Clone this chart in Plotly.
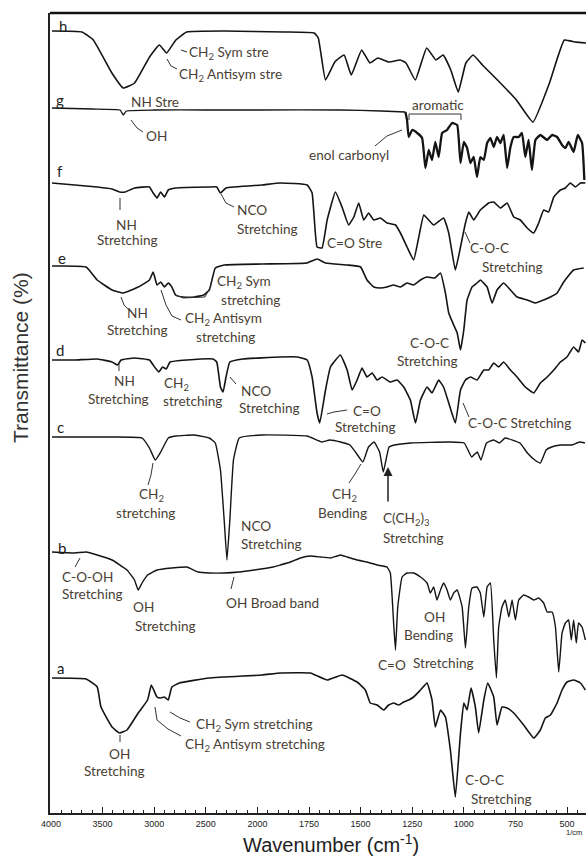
import numpy as np
import plotly.graph_objects as go

# ---------------- data (wavenumber cm-1, stacked transmittance a.u.) ----------------
tick_wn = [4000, 3500, 3000, 2500, 2000, 1750, 1500, 1250, 1000, 750, 500]

wn_h = [3990, 3700, 3590, 3410, 3300, 3190, 3045, 2950, 2880, 2790, 2685, 2320, 1870, 1725, 1705,
        1670, 1625, 1580, 1545, 1495, 1455, 1417, 1362, 1308, 1280, 1235, 1180, 1135, 1100, 1063,
        1027, 990, 955, 910, 837, 745, 665, 585, 513, 460, 408]
t_h = [782, 781, 773, 740, 725, 730, 756, 768, 760, 773, 781, 782, 781, 780, 775,
       733, 751, 758, 738, 763, 750, 755, 751, 753, 750, 733, 765, 753, 758, 743,
       721, 750, 758, 748, 733, 713, 691, 730, 773, 771, 770]

wn_g1 = [3990, 3600, 3330, 3300, 3270, 3000, 2500, 2000, 1600, 1400, 1283]
t_g1 = [705, 704, 703, 698, 702, 703, 703, 703, 703, 702, 701]
wn_g2 = [1283, 1275, 1267, 1250, 1226, 1202, 1186, 1170, 1154, 1138, 1122, 1105, 1081, 1057, 1032,
         1016, 1000, 984, 968, 952, 936, 920, 903, 887, 871, 855, 839, 823, 807, 790, 774, 758,
         734, 718, 702, 686, 670, 653, 629, 596, 572, 548, 524, 508, 492, 468, 448, 427, 416]
t_g2 = [701, 693, 676, 683, 680, 675, 645, 663, 653, 671, 656, 680, 683, 690, 688,
        650, 671, 665, 650, 656, 636, 656, 653, 670, 675, 666, 676, 670, 678, 645, 666, 676,
        676, 680, 656, 673, 643, 673, 678, 673, 678, 676, 668, 665, 671, 661, 678, 670, 633]

wn_f = [3990, 3770, 3552, 3408, 3336, 3282, 3191, 3046, 3010, 2973, 2937, 2901, 2864, 2793, 2466,
        2394, 2358, 2304, 1978, 1889, 1759, 1735, 1711, 1687, 1662, 1622, 1590, 1558, 1533, 1509,
        1485, 1461, 1436, 1404, 1372, 1331, 1307, 1275, 1243, 1218, 1194, 1170, 1146, 1098, 1073,
        1041, 1016, 992, 976, 952, 920, 879, 855, 823, 790, 758, 726, 693, 661, 637, 613, 589,
        564, 532, 508, 484, 459, 435, 411]
t_f = [630, 628, 626, 624, 621, 621, 625, 626, 620, 615, 621, 616, 623, 625, 626,
       626, 620, 625, 628, 630, 628, 620, 566, 565, 593, 621, 606, 588, 596, 610,
       593, 600, 593, 595, 590, 588, 580, 566, 553, 576, 598, 593, 588, 595, 580,
       543, 566, 590, 601, 593, 603, 610, 611, 605, 610, 596, 593, 585, 580, 590, 603, 601,
       616, 623, 625, 630, 626, 630, 630]

wn_e = [3990, 3660, 3552, 3408, 3300, 3155, 3046, 3010, 2973, 2937, 2901, 2864, 2829, 2793, 2720,
        2611, 2520, 2466, 2408, 2322, 1978, 1760, 1711, 1670, 1565, 1500, 1469, 1436, 1404, 1372,
        1340, 1307, 1275, 1243, 1210, 1178, 1140, 1113, 1089, 1073, 1049, 1032, 1016, 1000, 984,
        960, 936, 920, 887, 863, 839, 807, 774, 742, 693, 653, 613, 580, 548, 516, 468, 419]
t_e = [547, 546, 533, 523, 520, 526, 533, 541, 528, 531, 526, 530, 526, 518, 516,
       516, 518, 523, 545, 548, 549, 550, 554, 550, 548, 546, 533, 526, 525, 526,
       528, 526, 530, 528, 533, 536, 535, 540, 520, 500, 488, 480, 463, 483, 513,
       526, 530, 533, 526, 510, 523, 530, 523, 516, 513, 510, 513, 516, 520, 531, 543, 545]

wn_d = [3990, 3770, 3552, 3408, 3355, 3320, 3191, 3046, 2990, 2955, 2919, 2883, 2846, 2684, 2430,
        2394, 2358, 2333, 2304, 2267, 2140, 1889, 1806, 1759, 1735, 1711, 1698, 1670, 1646, 1598,
        1565, 1541, 1517, 1493, 1469, 1444, 1420, 1396, 1356, 1323, 1291, 1259, 1234, 1210, 1178,
        1154, 1122, 1098, 1073, 1041, 1016, 992, 968, 936, 903, 879, 855, 831, 807, 774, 742,
        702, 661, 629, 596, 564, 532, 500, 468, 444, 427, 411]
t_d = [453, 453, 454, 451, 448, 453, 455, 453, 445, 441, 446, 444, 451, 453, 454,
       451, 426, 421, 436, 451, 454, 456, 456, 453, 436, 400, 390, 423, 446, 458,
       443, 423, 433, 445, 436, 440, 433, 436, 431, 433, 426, 413, 390, 413, 426,
       420, 433, 426, 410, 390, 423, 433, 436, 433, 443, 443, 450, 446, 451, 443, 436,
       426, 420, 430, 436, 443, 451, 456, 466, 461, 473, 470]

wn_c = [3990, 3408, 3118, 3046, 2990, 2937, 2864, 2793, 2611, 2466, 2408, 2358, 2322, 2295, 2267,
        2232, 2176, 1978, 1760, 1687, 1650, 1597, 1552, 1525, 1489, 1462, 1435, 1408, 1390, 1362,
        1335, 1256, 1072, 998, 962, 935, 917, 890, 855, 828, 800, 728, 692, 656, 629, 601,
        575, 530, 476, 440, 413]
t_c = [376, 376, 375, 365, 353, 361, 375, 377, 378, 375, 370, 343, 293, 253, 293,
       353, 375, 378, 377, 371, 373, 371, 368, 361, 351, 366, 371, 361, 341, 366,
       368, 370, 371, 370, 356, 361, 353, 370, 373, 370, 375, 370, 360, 353, 350, 363,
       366, 368, 368, 371, 370]

wn_b = [3990, 3770, 3660, 3552, 3408, 3264, 3191, 3155, 3118, 3064, 2973, 2829, 2684, 2575, 2466,
        2322, 2178, 2032, 1924, 1889, 1840, 1792, 1743, 1695, 1646, 1598, 1565, 1517, 1469, 1420,
        1372, 1356, 1340, 1331, 1320, 1299, 1275, 1243, 1210, 1178, 1162, 1146, 1130, 1113, 1098,
        1081, 1065, 1049, 1032, 1008, 992, 976, 960, 936, 920, 903, 887, 871, 855, 842, 831,
        815, 799, 782, 766, 750, 734, 710, 686, 661, 637, 613, 596, 572, 556, 540, 524, 508,
        492, 479, 468, 455, 444, 427, 411]
t_b = [261, 260, 261, 258, 253, 243, 233, 223, 230, 238, 243, 245, 246, 241, 240,
       240, 241, 243, 246, 248, 251, 255, 257, 256, 255, 258, 256, 253, 251, 248,
       246, 240, 190, 163, 206, 236, 240, 240, 236, 230, 220, 226, 213, 223, 230,
       223, 213, 220, 223, 206, 165, 206, 225, 226, 220, 196, 226, 230, 173, 135, 186,
       206, 213, 196, 213, 193, 213, 218, 216, 213, 215, 210, 201, 201, 186, 141, 180, 190,
       193, 173, 193, 170, 190, 186, 173]

wn_a = [3990, 3660, 3552, 3516, 3408, 3336, 3264, 3155, 3064, 3028, 2973, 2937, 2901, 2864, 2829,
        2757, 2466, 1978, 1889, 1743, 1662, 1590, 1517, 1477, 1453, 1420, 1388, 1364, 1340, 1315,
        1291, 1267, 1243, 1210, 1178, 1154, 1138, 1113, 1089, 1065, 1041, 1016, 1000, 984, 965,
        944, 928, 903, 884, 855, 839, 815, 790, 758, 710, 661, 629, 605, 580, 548, 524, 500,
        468, 435, 411]
t_a = [135, 134, 126, 106, 86, 80, 83, 100, 113, 128, 116, 115, 116, 113, 126,
       130, 135, 138, 140, 140, 133, 138, 131, 123, 110, 108, 103, 108, 110, 108,
       111, 113, 116, 123, 130, 113, 86, 103, 96, 63, 16, 80, 110, 103, 125,
       106, 80, 113, 130, 116, 88, 106, 105, 100, 88, 75, 83, 95, 98, 110, 123, 131,
       133, 130, 123]

spectrum_names = ["a", "b", "c", "d", "e", "f", "g", "h"]


# ---------------- helpers ----------------
def pos(w):
    """Position on the split Shimadzu-style wavenumber scale (one unit per tick interval)."""
    w = np.asarray(w, dtype=float)
    return np.where(w >= 2000, (4000 - w) / 500.0, 4 + (2000 - w) / 250.0)


W, H = 586, 863
ML, MR, MT, MB = 50, 0, 13, 50
PW, PH = W - ML - MR, H - MT - MB


def px(x):
    return (x - ML) / PW


def py(y):
    return (H - MB - y) / PH


TXT = "#4a3f35"
FONT = "Lato, Calibri, 'Open Sans', sans-serif"
FS = 13.6

fig = go.Figure()

series = [(wn_a, t_a, 1.6), (wn_b, t_b, 1.4), (wn_c, t_c, 1.4), (wn_d, t_d, 1.6),
          (wn_e, t_e, 1.6), (wn_f, t_f, 1.6), (wn_g1, t_g1, 1.3), (wn_g2, t_g2, 2.3),
          (wn_h, t_h, 1.6)]
for wn, tv, lw in series:
    fig.add_trace(go.Scatter(x=pos(wn), y=tv, mode="lines",
                             line=dict(color="#141414", width=lw, shape="spline", smoothing=0.35),
                             hoverinfo="skip", showlegend=False))

x_left = (ML - 51) / 51.6
x_right = (W - 51) / 51.6

fig.update_layout(
    width=W, height=H,
    margin=dict(l=ML, r=MR, t=MT, b=MB),
    paper_bgcolor="white", plot_bgcolor="white",
    xaxis=dict(range=[x_left, x_right], showgrid=False, zeroline=False,
               tickmode="array", tickvals=list(pos(tick_wn)), ticktext=[str(t) for t in tick_wn],
               ticks="inside", ticklen=6, tickwidth=1, tickcolor="#222",
               minor=dict(dtick=0.2, tick0=0, ticks="inside", ticklen=3, tickcolor="#222"),
               showline=True, linecolor="#222", linewidth=1.5,
               tickfont=dict(family="'Liberation Sans Narrow', 'Arial Narrow', Arial", size=9, color="#222"),
               ticklabelstandoff=1),
    yaxis=dict(range=[0, PH], showgrid=False, zeroline=False, showticklabels=False, ticks="",
               showline=True, linecolor="#222", linewidth=1.5),
)

shapes = [dict(type="line", xref="paper", yref="paper", x0=0, x1=1, y0=1, y1=1,
               line=dict(color="#111", width=2.5))]

# leader lines (pixel polylines)
leaders = [
    [(181, 50), (187, 52)],
    [(167, 59), (171, 66), (177, 69)],
    [(131, 120), (137, 128), (143, 132)],
    [(375, 146), (387, 136), (402, 130)],
    [(120, 198), (120, 210)],
    [(221, 194), (226, 203), (234, 207)],
    [(465, 232), (470, 243)],
    [(121, 297), (124, 305), (129, 310)],
    [(176, 295), (183, 298), (205, 297), (211, 286)],
    [(161, 290), (166, 305), (172, 316), (181, 320)],
    [(119, 364), (119, 371)],
    [(230, 377), (236, 384)],
    [(327, 414), (334, 412), (347, 410)],
    [(463, 403), (469, 417)],
    [(153, 463), (151, 475), (148, 485)],
    [(361, 464), (355, 474), (349, 483)],
    [(80, 558), (75, 567)],
    [(234, 577), (231, 589)],
    [(120, 735), (120, 742)],
    [(170, 712), (180, 718), (190, 722)],
    [(155, 707), (157, 720), (168, 729), (181, 736)],
    # "aromatic" bracket
    [(409, 120), (409, 114), (461, 114), (461, 120)],
]
for pts in leaders:
    path = "M " + " L ".join(f"{px(x):.5f},{py(y):.5f}" for x, y in pts)
    shapes.append(dict(type="path", xref="paper", yref="paper", path=path,
                       line=dict(color="#333", width=1)))
fig.update_layout(shapes=shapes)

# text labels: (text, left x px, centre y px)
labels = [
    ("CH<sub>2</sub> Sym stre", 187, 53), ("CH<sub>2</sub> Antisym stre", 177, 75),
    ("NH Stre", 129, 102), ("OH", 144, 136), ("aromatic", 410, 105), ("enol carbonyl", 307, 155),
    ("NH", 114, 225), ("Stretching", 95, 240), ("NCO", 235, 210), ("Stretching", 235, 229),
    ("C=O Stre", 325, 243), ("C-O-C", 468, 248), ("Stretching", 480, 267),
    ("NH", 125, 313), ("Stretching", 105, 330), ("CH<sub>2</sub> Sym", 215, 282), ("stretching", 219, 300),
    ("CH<sub>2</sub> Antisym", 183, 319), ("stretching", 194, 337), ("C-O-C", 408, 343), ("Stretching", 395, 361),
    ("NH", 112, 381), ("Stretching", 86, 399), ("CH<sub>2</sub>", 162, 384), ("stretching", 161, 401),
    ("NCO", 239, 391), ("Stretching", 237, 408), ("C=O", 351, 411), ("Stretching", 333, 427),
    ("C-O-C Stretching", 466, 423),
    ("CH<sub>2</sub>", 137, 495), ("stretching", 114, 513), ("NCO", 239, 526), ("Stretching", 239, 544),
    ("CH<sub>2</sub>", 330, 495), ("Bending", 316, 513), ("C(CH<sub>2</sub>)<sub>3</sub>", 381, 519),
    ("Stretching", 381, 538),
    ("C-O-OH", 60, 577), ("Stretching", 60, 594), ("OH", 131, 607), ("Stretching", 133, 626),
    ("OH Broad band", 224, 603), ("OH", 422, 617), ("Bending", 402, 635), ("C=O", 376, 665),
    ("Stretching", 411, 663),
    ("OH", 107, 754), ("Stretching", 82, 771), ("CH<sub>2</sub> Sym stretching", 194, 725),
    ("CH<sub>2</sub> Antisym stretching", 183, 745), ("C-O-C", 463, 780), ("Stretching", 469, 799),
]
ann = []
for text, x, y in labels:
    ann.append(dict(text=text, x=px(x), y=py(y), xref="paper", yref="paper", xanchor="left",
                    yanchor="middle", showarrow=False, font=dict(family=FONT, size=FS, color=TXT)))

# spectrum letters
letter_pos = [(60, 668), (62, 548), (60, 427), (60, 350), (62, 258), (60, 171), (60, 100), (63, 26)]
for name, (x, y) in zip(spectrum_names, letter_pos):
    ann.append(dict(text=name, x=px(x), y=py(y), xref="paper", yref="paper", xanchor="center",
                    yanchor="middle", showarrow=False, font=dict(family=FONT, size=15, color="#222")))

# arrow for C(CH2)3
ann.append(dict(text="", x=px(388), y=py(467), xref="paper", yref="paper", showarrow=True,
                ax=0, ay=36, arrowhead=2, arrowsize=1.2, arrowwidth=1.5, arrowcolor="#222"))

# axis titles
ann.append(dict(text="Transmittance (%)", x=px(20), y=py(358), xref="paper", yref="paper",
                textangle=-90, showarrow=False, xanchor="center", yanchor="middle",
                font=dict(family="Arial, 'Liberation Sans', sans-serif", size=21, color="#333")))
ann.append(dict(text="Wavenumber (cm<sup>-1</sup>)", x=px(331), y=py(843), xref="paper", yref="paper",
                showarrow=False, xanchor="center", yanchor="middle",
                font=dict(family="Arial, 'Liberation Sans', sans-serif", size=20, color="#222")))
ann.append(dict(text="1/cm", x=px(583), y=py(832), xref="paper", yref="paper", showarrow=False,
                xanchor="right", yanchor="middle", borderpad=0,
                font=dict(family="'Liberation Sans Narrow', Arial", size=7.5, color="#222")))

fig.update_layout(annotations=ann)

# remove the default page margin so the 586x863 figure fills the window exactly
fig.write_html("out.html", config={"displayModeBar": False},
               post_script="document.body.style.margin='0';document.body.style.overflow='hidden';")
